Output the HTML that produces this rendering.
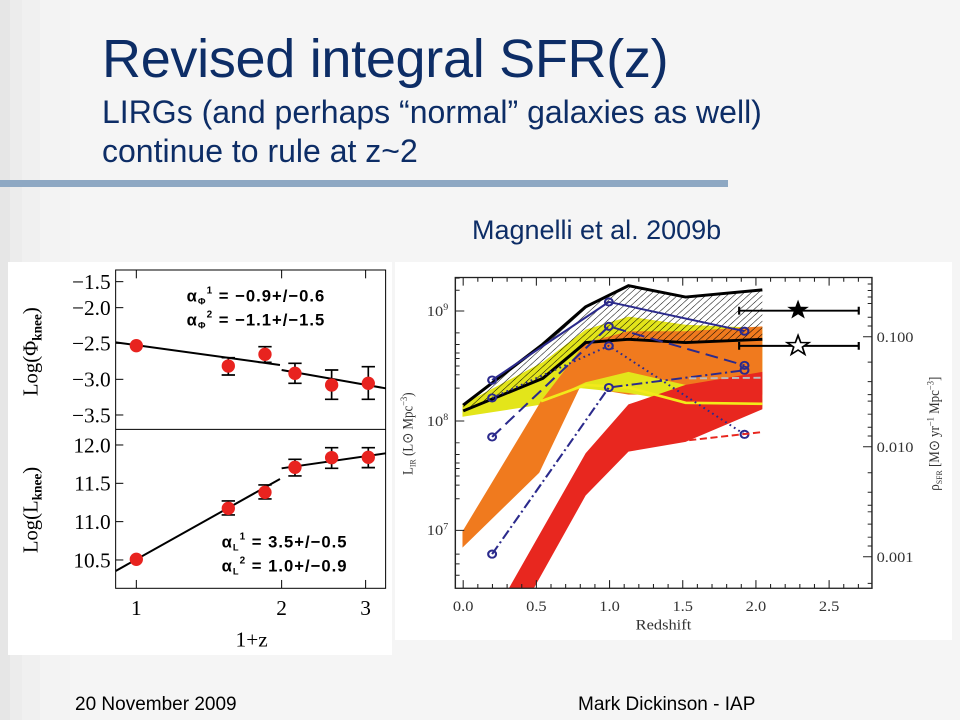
<!DOCTYPE html>
<html><head><meta charset="utf-8"><style>
html,body{margin:0;padding:0}
body{width:960px;height:720px;position:relative;overflow:hidden;font-family:"Liberation Sans",sans-serif;
background:linear-gradient(90deg,#e6e6e6 0,#e6e6e6 10px,#ececec 10px,#ececec 22px,#f0f0f0 22px,#f0f0f0 40px,#f3f3f3 40px,#f3f3f3 70px,#f5f5f5 70px);}
.t{position:absolute;color:#0d2d66;white-space:nowrap;line-height:1}
</style></head><body>
<div class="t" style="left:102px;top:32px;font-size:54px;letter-spacing:-0.3px">Revised integral SFR(z)</div>
<div class="t" style="left:102px;top:96px;font-size:32px">LIRGs (and perhaps “normal” galaxies as well)</div>
<div class="t" style="left:102px;top:135px;font-size:32px">continue to rule at z~2</div>
<div style="position:absolute;left:0;top:180px;width:728px;height:7px;background:#8ea8c3"></div>
<div class="t" style="left:472px;top:217px;font-size:27px">Magnelli et al. 2009b</div>
<div class="t" style="left:75px;top:695px;font-size:19px;color:#000">20 November 2009</div>
<div class="t" style="left:578px;top:695px;font-size:19px;color:#000">Mark Dickinson - IAP</div>

<div style="position:absolute;left:8px;top:262px;width:384px;height:393px;background:#fff"></div>
<div style="position:absolute;left:395px;top:262px;width:557px;height:378px;background:#fff"></div>

<svg width="960" height="720" style="position:absolute;left:0;top:0">
<!-- LEFT PLOT -->
<g transform="translate(0,255) scale(0.3333)" font-family="Liberation Serif, serif" fill="#000">
 <rect x="347" y="45" width="810" height="955" fill="none" stroke="#000" stroke-width="3"/>
 <line x1="347" y1="523" x2="1157" y2="523" stroke="#000" stroke-width="3"/>
 <g stroke="#000" stroke-width="3">
  <line x1="347" y1="80" x2="370" y2="80"/><line x1="347" y1="158" x2="370" y2="158"/><line x1="347" y1="265" x2="370" y2="265"/><line x1="347" y1="373" x2="370" y2="373"/><line x1="347" y1="480" x2="370" y2="480"/>
  <line x1="347" y1="570" x2="370" y2="570"/><line x1="347" y1="685" x2="370" y2="685"/><line x1="347" y1="800" x2="370" y2="800"/><line x1="347" y1="915" x2="370" y2="915"/>
  <line x1="409" y1="1000" x2="409" y2="975"/><line x1="845" y1="1000" x2="845" y2="975"/><line x1="1097" y1="1000" x2="1097" y2="975"/>
  <line x1="409" y1="45" x2="409" y2="70"/><line x1="845" y1="45" x2="845" y2="70"/><line x1="1097" y1="45" x2="1097" y2="70"/>
 </g>
 <g font-size="64" text-anchor="end">
  <text x="332" y="102">−1.5</text><text x="332" y="180">−2.0</text><text x="332" y="287">−2.5</text><text x="332" y="395">−3.0</text><text x="332" y="502">−3.5</text>
  <text x="332" y="592">12.0</text><text x="332" y="707">11.5</text><text x="332" y="822">11.0</text><text x="332" y="937">10.5</text>
 </g>
 <g font-size="64" text-anchor="middle">
  <text x="409" y="1080">1</text><text x="845" y="1080">2</text><text x="1097" y="1080">3</text>
  <text x="755" y="1175">1+z</text>
 </g>
 <text transform="translate(112,290) rotate(-90)" font-size="62" text-anchor="middle">Log(Φ<tspan font-size="40" dy="12" font-weight="bold">knee</tspan><tspan dy="-12">)</tspan></text>
 <text transform="translate(112,765) rotate(-90)" font-size="62" text-anchor="middle">Log(L<tspan font-size="40" dy="12" font-weight="bold">knee</tspan><tspan dy="-12">)</tspan></text>
 <g font-size="50" font-weight="bold" font-family="Liberation Sans, sans-serif" letter-spacing="3">
  <text x="560" y="140">α<tspan font-size="28" dy="8">Φ</tspan><tspan font-size="30" dy="-32">1</tspan><tspan dy="24"> = −0.9+/−0.6</tspan></text>
  <text x="560" y="212">α<tspan font-size="28" dy="8">Φ</tspan><tspan font-size="30" dy="-32">2</tspan><tspan dy="24"> = −1.1+/−1.5</tspan></text>
  <text x="665" y="878">α<tspan font-size="28" dy="8">L</tspan><tspan font-size="30" dy="-32">1</tspan><tspan dy="24"> = 3.5+/−0.5</tspan></text>
  <text x="665" y="950">α<tspan font-size="28" dy="8">L</tspan><tspan font-size="30" dy="-32">2</tspan><tspan dy="24"> = 1.0+/−0.9</tspan></text>
 </g>
 <g stroke="#000" stroke-width="6">
  <line x1="347" y1="262" x2="840" y2="330"/><line x1="845" y1="345" x2="1157" y2="400"/>
  <line x1="347" y1="948" x2="840" y2="672"/><line x1="845" y1="640" x2="1157" y2="595"/>
 </g>
 <g stroke="#000" stroke-width="5" fill="none">
  <path d="M685 308V360M665 308H705M665 360H705"/>
  <path d="M795 275V322M775 275H815M775 322H815"/>
  <path d="M885 325V385M865 325H905M865 385H905"/>
  <path d="M995 345V433M975 345H1015M975 433H1015"/>
  <path d="M1105 335V433M1085 335H1125M1085 433H1125"/>
  <path d="M685 738V780M665 738H705M665 780H705"/>
  <path d="M795 690V732M775 690H815M775 732H815"/>
  <path d="M885 613V663M865 613H905M865 663H905"/>
  <path d="M995 578V640M975 578H1015M975 640H1015"/>
  <path d="M1105 578V638M1085 578H1125M1085 638H1125"/>
 </g>
 <g fill="#e8231f">
  <circle cx="409" cy="272" r="20"/><circle cx="685" cy="333" r="20"/><circle cx="795" cy="298" r="20"/><circle cx="885" cy="355" r="20"/><circle cx="995" cy="390" r="20"/><circle cx="1105" cy="385" r="20"/>
  <circle cx="409" cy="913" r="20"/><circle cx="685" cy="760" r="20"/><circle cx="795" cy="712" r="20"/><circle cx="885" cy="637" r="20"/><circle cx="995" cy="608" r="20"/><circle cx="1105" cy="607" r="20"/>
 </g>
</g>

<!-- RIGHT PLOT -->
<defs>
 <pattern id="h" width="14" height="14" patternUnits="userSpaceOnUse" patternTransform="rotate(45)">
  <line x1="0" y1="0" x2="0" y2="14" stroke="#000" stroke-width="3"/>
 </pattern>
 <clipPath id="cp"><rect x="155" y="40" width="1167" height="955"/></clipPath>
</defs>
<g transform="translate(400,264.5) scale(0.357,0.3254)" font-family="Liberation Serif, serif">
 <g clip-path="url(#cp)">
 <polygon fill="#e3e51a" points="175,430 400,300 520,200 640,160 800,185 1015,195 1015,440 800,430 640,380 520,365 400,430 175,468"/>
 <polygon fill="#f07a1e" points="175,870 175,820 395,420 520,240 640,205 800,205 1015,190 1015,400 640,400 505,375 390,640"/>
 <polygon fill="#e3e51a" points="395,425 520,362 640,330 800,370 1015,415 1015,430 800,425 640,395 505,380"/>
 <polygon fill="#e8271f" points="305,995 520,580 640,430 800,370 1015,330 1015,445 800,545 640,575 520,710 375,995"/>
 <polyline fill="none" stroke="#f2ea1a" stroke-width="8" points="395,420 520,370 640,378 800,425 1015,428"/>
 <polygon fill="url(#h)" points="177,432 400,245 520,130 640,65 800,100 1015,78 1015,230 800,240 640,230 520,240 400,350 177,450"/>
 <polyline fill="none" stroke="#000" stroke-width="9" points="177,432 400,245 520,130 640,65 800,100 1015,78"/>
 <polyline fill="none" stroke="#000" stroke-width="9" points="177,450 400,350 520,240 640,230 800,240 1015,230"/>
 <g fill="none" stroke="#2b2a8c" stroke-width="6">
  <polyline points="258,355 585,115 965,205"/>
  <polyline points="258,530 585,190 965,310" stroke-dasharray="36,18"/>
  <polyline points="258,410 585,250 965,522" stroke-dasharray="5,10"/>
  <polyline points="258,890 585,378 965,325" stroke-dasharray="30,10,6,10"/>
  <circle cx="258" cy="355" r="11"/><circle cx="258" cy="410" r="11"/><circle cx="258" cy="530" r="11"/><circle cx="258" cy="890" r="11"/>
  <circle cx="585" cy="115" r="11"/><circle cx="585" cy="190" r="11"/><circle cx="585" cy="250" r="11"/><circle cx="585" cy="378" r="11"/>
  <circle cx="965" cy="205" r="11"/><circle cx="965" cy="310" r="11"/><circle cx="965" cy="325" r="11"/><circle cx="965" cy="522" r="11"/>
 </g>
 <line x1="810" y1="350" x2="1015" y2="348" stroke="#bbb" stroke-width="6" stroke-dasharray="20,10"/>
 <line x1="810" y1="540" x2="1015" y2="515" stroke="#e8271f" stroke-width="6" stroke-dasharray="20,10"/>
 </g>
 <g stroke="#000" stroke-width="6" fill="none">
  <path d="M950 142H1285M1285 130V154M950 130V154"/>
  <path d="M950 250H1285M1285 238V262M950 238V262"/>
 </g>
 <polygon transform="translate(1115,140) scale(3.2)" fill="#000" points="0,-10 2.35,-3.2 9.5,-3.1 3.8,1.2 5.9,8.1 0,4 -5.9,8.1 -3.8,1.2 -9.5,-3.1 -2.35,-3.2"/>
 <polygon transform="translate(1115,250) scale(3.2)" fill="#fff" stroke="#000" stroke-width="1.5" points="0,-10 2.35,-3.2 9.5,-3.1 3.8,1.2 5.9,8.1 0,4 -5.9,8.1 -3.8,1.2 -9.5,-3.1 -2.35,-3.2"/>
 <rect x="155" y="40" width="1167" height="955" fill="none" stroke="#222" stroke-width="4"/>
 <g stroke="#222" stroke-width="3">
  <path d="M177 995v-25M300 995v-13M423 995v-13M464 995v-13M382 995v-25M505 995v-13M546 995v-13M587 995v-25M628 995v-13M669 995v-13M710 995v-13M751 995v-13M792 995v-25M833 995v-13M874 995v-13M915 995v-13M956 995v-13M997 995v-25M1038 995v-13M1079 995v-13M1120 995v-13M1161 995v-13M1202 995v-25M1243 995v-13M1284 995v-13M218 995v-13M259 995v-13M341 995v-13"/>
  <path d="M177 40v25M382 40v25M587 40v25M792 40v25M997 40v25M1202 40v25M218 40v13M259 40v13M300 40v13M341 40v13M423 40v13M464 40v13M505 40v13M546 40v13M628 40v13M669 40v13M710 40v13M751 40v13M833 40v13M874 40v13M915 40v13M956 40v13M1038 40v13M1079 40v13M1120 40v13M1161 40v13M1243 40v13M1284 40v13"/>
  <path d="M155 143h25M155 481h25M155 817h25M155 380h12M155 339h12M155 312h12M155 289h12M155 272h12M155 246h12M155 210h12M155 720h12M155 678h12M155 650h12M155 627h12M155 610h12M155 584h12M155 548h12M155 955h12M155 920h12M155 890h12M155 42h12M155 79h12"/>
  <path d="M1322 222h-25M1322 560h-25M1322 898h-25M1322 120h-12M1322 162h-12M1322 189h-12M1322 460h-12M1322 500h-12M1322 527h-12M1322 798h-12M1322 838h-12M1322 865h-12M1322 40h-12M1322 60h-12M1322 80h-12M1322 100h-12M1322 300h-12M1322 360h-12M1322 400h-12M1322 420h-12M1322 640h-12M1322 700h-12M1322 740h-12M1322 760h-12M1322 980h-12"/>
 </g>
 <g font-size="46" fill="#333" text-anchor="middle">
  <text x="177" y="1065">0.0</text><text x="382" y="1065">0.5</text><text x="587" y="1065">1.0</text><text x="792" y="1065">1.5</text><text x="997" y="1065">2.0</text><text x="1202" y="1065">2.5</text>
  <text x="738" y="1122">Redshift</text>
 </g>
 <g font-size="46" fill="#333" text-anchor="end">
  <text x="135" y="158">10<tspan font-size="28" dy="-18">9</tspan></text>
  <text x="135" y="496">10<tspan font-size="28" dy="-18">8</tspan></text>
  <text x="135" y="832">10<tspan font-size="28" dy="-18">7</tspan></text>
 </g>
 <g font-size="46" fill="#333">
  <text x="1335" y="238">0.100</text><text x="1335" y="576">0.010</text><text x="1335" y="914">0.001</text>
 </g>
 <text transform="translate(35,520) rotate(-90)" font-size="40" fill="#333" text-anchor="middle">L<tspan font-size="24" dy="8">IR</tspan><tspan dy="-8">  (L</tspan><tspan>⊙ Mpc</tspan><tspan font-size="26" dy="-16">−3</tspan><tspan dy="16">)</tspan></text>
 <text transform="translate(1510,520) rotate(-90)" font-size="40" fill="#333" text-anchor="middle">ρ<tspan font-size="24" dy="8">SFR</tspan><tspan dy="-8"> [M⊙ yr</tspan><tspan font-size="26" dy="-16">−1</tspan><tspan dy="16"> Mpc</tspan><tspan font-size="26" dy="-16">−3</tspan><tspan dy="16">]</tspan></text>
</g>
</svg>
</body></html>
